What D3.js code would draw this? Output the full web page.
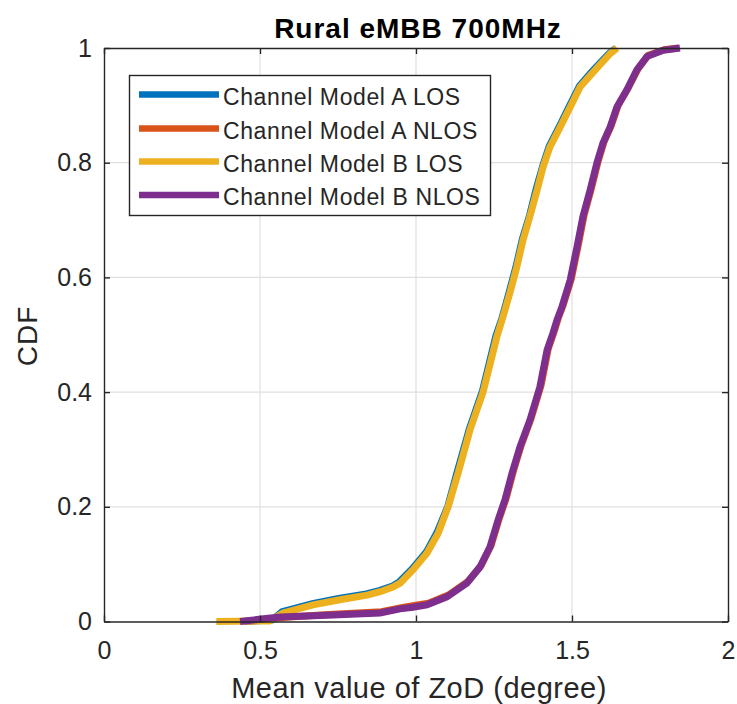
<!DOCTYPE html>
<html>
<head>
<meta charset="utf-8">
<script src="https://cdn.jsdelivr.net/npm/d3@7"></script>
<style>
  html, body { margin: 0; padding: 0; background: #fff; }
  svg { display: block; font-family: "Liberation Sans", Arial, sans-serif; }
</style>
</head>
<body>
<svg id="chart" width="737" height="704"></svg>
<script>
// ---- Data ----
const title = "Rural eMBB 700MHz";
const xLabel = "Mean value of ZoD (degree)";
const yLabel = "CDF";
const seriesNames = ["Channel Model A LOS", "Channel Model A NLOS", "Channel Model B LOS", "Channel Model B NLOS"];
const seriesColors = ["#0072BD", "#D95319", "#EDB120", "#7E2F8E"];
const xTicks = [0, 0.5, 1, 1.5, 2];
const yTicks = [0, 0.2, 0.4, 0.6, 0.8, 1];

// Channel Model A LOS
const xA_LOS = [0.45, 0.54, 0.571, 0.668, 0.752, 0.841, 0.882, 0.925, 0.946, 0.988, 1.033, 1.068, 1.102, 1.132, 1.171, 1.213, 1.256, 1.275, 1.299, 1.321, 1.341, 1.364, 1.385, 1.406, 1.427, 1.46, 1.492, 1.524, 1.566, 1.62, 1.642];
const cA_LOS = [0, 0.003, 0.017, 0.031, 0.04, 0.048, 0.054, 0.062, 0.069, 0.092, 0.121, 0.156, 0.201, 0.261, 0.336, 0.402, 0.498, 0.528, 0.575, 0.62, 0.667, 0.708, 0.754, 0.794, 0.829, 0.864, 0.899, 0.934, 0.96, 0.991, 1.0];
// Channel Model A NLOS
const xA_NLOS = [0.46, 0.57, 0.72, 0.89, 0.953, 0.995, 1.04, 1.104, 1.167, 1.209, 1.241, 1.267, 1.289, 1.312, 1.337, 1.369, 1.401, 1.424, 1.443, 1.456, 1.472, 1.498, 1.52, 1.539, 1.562, 1.584, 1.603, 1.626, 1.648, 1.68, 1.712, 1.744, 1.796, 1.84];
const cA_NLOS = [0, 0.007, 0.012, 0.017, 0.024, 0.028, 0.032, 0.046, 0.07, 0.098, 0.133, 0.18, 0.215, 0.262, 0.307, 0.354, 0.412, 0.476, 0.506, 0.529, 0.552, 0.598, 0.656, 0.709, 0.755, 0.803, 0.837, 0.865, 0.9, 0.93, 0.964, 0.987, 0.997, 1.0];
// Channel Model B LOS
const xB_LOS = [0.36, 0.53, 0.574, 0.67, 0.756, 0.843, 0.885, 0.926, 0.949, 0.99, 1.035, 1.071, 1.103, 1.135, 1.173, 1.215, 1.259, 1.276, 1.301, 1.323, 1.343, 1.365, 1.388, 1.407, 1.429, 1.462, 1.494, 1.526, 1.568, 1.622, 1.644];
const cB_LOS = [0, 0.001, 0.015, 0.029, 0.038, 0.046, 0.052, 0.06, 0.067, 0.09, 0.119, 0.154, 0.2, 0.259, 0.334, 0.4, 0.496, 0.526, 0.573, 0.618, 0.665, 0.706, 0.752, 0.792, 0.827, 0.862, 0.897, 0.932, 0.958, 0.99, 1.0];
// Channel Model B NLOS
const xB_NLOS = [0.436, 0.564, 0.715, 0.885, 0.949, 0.99, 1.035, 1.099, 1.163, 1.205, 1.237, 1.263, 1.285, 1.308, 1.333, 1.365, 1.397, 1.42, 1.439, 1.452, 1.468, 1.494, 1.516, 1.535, 1.558, 1.58, 1.599, 1.622, 1.644, 1.676, 1.708, 1.74, 1.792, 1.846];
const cB_NLOS = [0, 0.008, 0.011, 0.015, 0.022, 0.025, 0.029, 0.043, 0.067, 0.095, 0.13, 0.177, 0.212, 0.259, 0.304, 0.351, 0.409, 0.473, 0.503, 0.526, 0.549, 0.595, 0.653, 0.706, 0.752, 0.8, 0.834, 0.862, 0.897, 0.927, 0.962, 0.985, 0.996, 1.0];

const seriesX = [xA_LOS, xA_NLOS, xB_LOS, xB_NLOS];
const seriesC = [cA_LOS, cA_NLOS, cB_LOS, cB_NLOS];

(function () {
// ---- Layout ----
const svg = d3.select("#chart");
const pLeft = 104, pRight = 728, pTop = 48, pBottom = 621.5;
const x = d3.scaleLinear().domain([0, 2]).range([pLeft, pRight]);
const y = d3.scaleLinear().domain([0, 1]).range([pBottom, pTop]);
const axisColor = "#262626";
const fmt = d => d3.format("~g")(d);

// grid
const grid = svg.append("g");
grid.selectAll(".gx").data(xTicks.slice(1, -1)).enter().append("line")
  .attr("x1", d => x(d)).attr("x2", d => x(d)).attr("y1", pTop).attr("y2", pBottom)
  .attr("stroke", "#e0e0e0").attr("stroke-width", 1.2);
grid.selectAll(".gy").data(yTicks.slice(1, -1)).enter().append("line")
  .attr("y1", d => y(d)).attr("y2", d => y(d)).attr("x1", pLeft).attr("x2", pRight)
  .attr("stroke", "#e0e0e0").attr("stroke-width", 1.2);

// curves
const line = d3.line().x(d => x(d[0])).y(d => y(d[1])).curve(d3.curveLinear);
const plot = svg.append("g");
seriesX.forEach((xs, i) => {
  const pts = xs.map((v, j) => [v, seriesC[i][j]]);
  plot.append("path").datum(pts)
    .attr("d", line).attr("fill", "none")
    .attr("stroke", seriesColors[i]).attr("stroke-width", 7)
    .attr("stroke-linejoin", "miter").attr("stroke-linecap", "butt");
});

// axes (box with inward ticks)
const axB = d3.axisBottom(x).tickValues(xTicks).tickFormat(fmt).tickSizeInner(-6).tickSizeOuter(0).tickPadding(20);
const axL = d3.axisLeft(y).tickValues(yTicks).tickFormat(fmt).tickSizeInner(-6).tickSizeOuter(0).tickPadding(12);
const axT = d3.axisTop(x).tickValues(xTicks).tickFormat("").tickSizeInner(-6).tickSizeOuter(0);
const axR = d3.axisRight(y).tickValues(yTicks).tickFormat("").tickSizeInner(-6).tickSizeOuter(0);

function styleAxis(g) {
  g.select(".domain").attr("stroke", axisColor).attr("stroke-width", 1.4);
  g.selectAll(".tick line").attr("stroke", axisColor).attr("stroke-width", 1.4);
  g.selectAll(".tick text").attr("fill", axisColor).style("font-size", "25px")
    .style("font-family", "'Liberation Sans', Arial, sans-serif");
}
svg.append("g").attr("transform", `translate(0,${pBottom})`).call(axB).call(styleAxis);
svg.append("g").attr("transform", `translate(${pLeft},0)`).call(axL).call(styleAxis);
svg.append("g").attr("transform", `translate(0,${pTop})`).call(axT).call(styleAxis);
svg.append("g").attr("transform", `translate(${pRight},0)`).call(axR).call(styleAxis);

// labels
svg.append("text").attr("x", 418).attr("y", 38).attr("text-anchor", "middle")
  .attr("fill", "#000").style("font-size", "28px").style("font-weight", "bold")
  .style("letter-spacing", "1px").text(title);
svg.append("text").attr("x", 419).attr("y", 698).attr("text-anchor", "middle")
  .attr("fill", axisColor).style("font-size", "29px").style("letter-spacing", "0.5px").text(xLabel);
svg.append("text").attr("transform", `translate(37,336) rotate(-90)`)
  .attr("text-anchor", "middle").attr("fill", axisColor).style("font-size", "28px")
  .style("letter-spacing", "1px").text(yLabel);

// legend
const lg = svg.append("g");
lg.append("rect").attr("x", 129.5).attr("y", 75.5).attr("width", 361).attr("height", 140)
  .attr("fill", "#fff").attr("stroke", axisColor).attr("stroke-width", 1.4);
const rowY = [94.5, 128.5, 161.5, 195];
seriesNames.forEach((name, i) => {
  lg.append("line").attr("x1", 139).attr("x2", 219).attr("y1", rowY[i]).attr("y2", rowY[i])
    .attr("stroke", seriesColors[i]).attr("stroke-width", 6.5);
  lg.append("text").attr("x", 223).attr("y", rowY[i] + 10)
    .attr("fill", axisColor).style("font-size", "23px").style("letter-spacing", "0.6px").text(name);
});
})();
</script>
</body>
</html>
